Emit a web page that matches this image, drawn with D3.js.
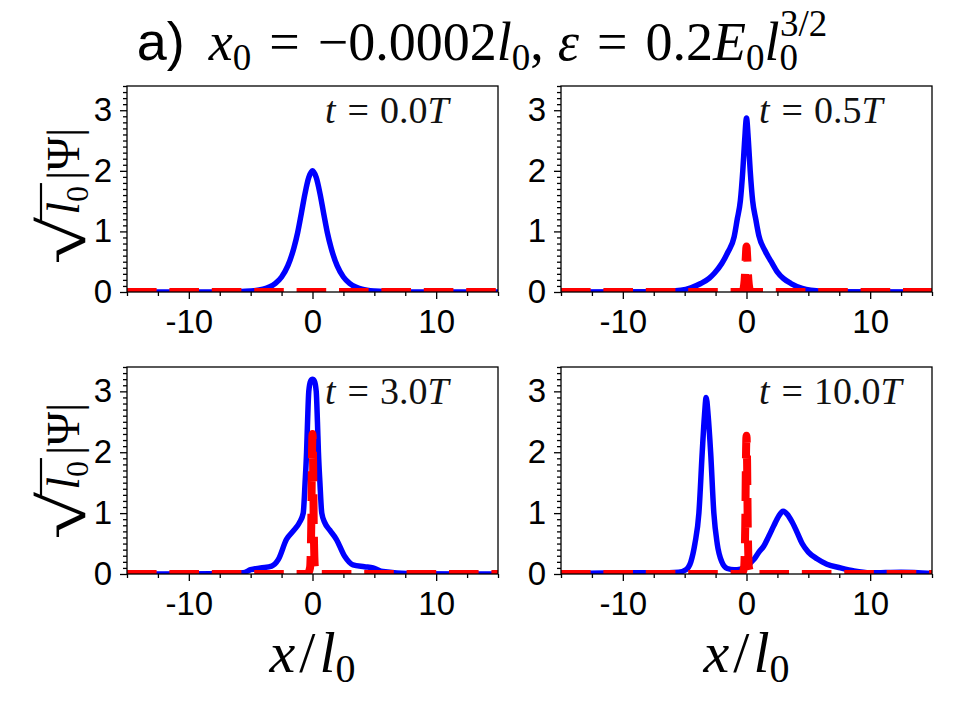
<!DOCTYPE html>
<html>
<head>
<meta charset="utf-8">
<script src="https://cdn.jsdelivr.net/npm/d3@7"></script>
<style>
  body { margin: 0; background: #fff; }
  text { white-space: pre; }
</style>
</head>
<body>
<div id="chart"></div>
<script>
// axis ranges and ticks
var xDomain = [-15, 15];
var yDomain = [0, 3.4];
var xTicks = [-10, 0, 10];
var xMinor = [-15, -12.5, -7.5, -5, -2.5, 2.5, 5, 7.5, 12.5, 15];
var yTicks = [0, 1, 2, 3];
var times = ["0.0", "0.5", "3.0", "10.0"];

// t = 0.0T
var blueX0 = [-15, -8, -6, -5, -4, -3.5, -3, -2.5, -2, -1.5, -1.2, -0.9, -0.6, -0.3, 0, 0.3, 0.6, 0.9, 1.2, 1.5, 2, 2.5, 3, 3.5, 4, 5, 6, 8, 15];
var blueY0 = [0, 0.001, 0.005, 0.015, 0.047, 0.082, 0.143, 0.248, 0.43, 0.73, 0.98, 1.30, 1.63, 1.89, 2.0, 1.89, 1.63, 1.30, 0.98, 0.73, 0.43, 0.248, 0.143, 0.082, 0.047, 0.015, 0.005, 0.001, 0];
var redX0 = [-15, 15];
var redY0 = [0, 0];

// t = 0.5T
var blueX1 = [-15, -7, -5.3, -4.5, -3.7, -3, -2.6, -2, -1.5, -1.0, -0.75, -0.5, -0.3, -0.15, 0, 0.15, 0.3, 0.5, 0.75, 1.0, 1.5, 2, 2.5, 3, 3.6, 4.5, 5.2, 7, 15];
var blueY1 = [0, 0.005, 0.03, 0.07, 0.14, 0.23, 0.31, 0.47, 0.66, 0.91, 1.2, 1.5, 2.0, 2.5, 2.87, 2.5, 2.0, 1.5, 1.2, 0.93, 0.68, 0.5, 0.33, 0.22, 0.14, 0.06, 0.03, 0.005, 0];
var redX1 = [-15, -0.6, -0.3, -0.15, -0.05, 0, 0.05, 0.15, 0.3, 0.6, 15];
var redY1 = [0, 0, 0.02, 0.2, 0.6, 0.75, 0.6, 0.2, 0.02, 0, 0];

// t = 3.0T
var blueX2 = [-15, -8, -5.6, -5, -4.2, -3.3, -2.76, -2.1, -1.5, -1.07, -0.75, -0.6, -0.48, -0.4, -0.3, -0.15, 0, 0.15, 0.3, 0.4, 0.48, 0.6, 0.75, 1.0, 1.4, 1.93, 2.6, 3.27, 4.2, 4.9, 5.7, 8, 15];
var blueY2 = [0, 0.005, 0.02, 0.07, 0.1, 0.13, 0.24, 0.57, 0.72, 0.84, 1.0, 1.5, 2.0, 2.5, 3.0, 3.17, 3.2, 3.17, 3.0, 2.5, 2.0, 1.5, 1.0, 0.84, 0.72, 0.57, 0.29, 0.15, 0.12, 0.1, 0.04, 0.005, 0];
var redX2 = [-15, -0.4, -0.2, -0.1, -0.05, 0, 0.05, 0.1, 0.2, 0.4, 15];
var redY2 = [0, 0, 0.1, 0.8, 1.8, 2.3, 1.8, 0.8, 0.1, 0, 0];

// t = 10.0T
var blueX3 = [-15, -10, -7, -5.5, -4.9, -4.5, -4.17, -3.85, -3.58, -3.4, -3.26, -3.1, -2.9, -2.64, -2.37, -2.0, -1.56, -1.0, -0.5, 0, 0.6, 1.0, 1.4, 1.8, 2.2, 2.6, 2.96, 3.3, 3.7, 4.1, 4.5, 5.0, 5.7, 6.5, 7.6, 8.7, 10, 12.5, 15];
var blueY3 = [0, 0.02, 0.02, 0.03, 0.07, 0.2, 0.5, 1.0, 2.0, 2.6, 2.9, 2.6, 2.0, 1.0, 0.5, 0.2, 0.09, 0.07, 0.08, 0.13, 0.24, 0.36, 0.46, 0.62, 0.79, 0.95, 1.03, 0.98, 0.85, 0.68, 0.5, 0.36, 0.25, 0.16, 0.1, 0.05, 0.02, 0.03, 0.01];
var redX3 = [-15, -0.4, -0.2, -0.1, -0.05, 0, 0.05, 0.1, 0.2, 0.4, 15];
var redY3 = [0, 0, 0.1, 0.8, 1.8, 2.27, 1.8, 0.8, 0.1, 0, 0];

var serif = "'Liberation Serif', 'DejaVu Serif', serif";
var sans = "'Liberation Sans', 'DejaVu Sans', sans-serif";

var svg = d3.select("#chart").append("svg")
    .attr("width", 960)
    .attr("height", 720);

var zip = (xs, ys) => xs.map((x, i) => [x, ys[i]]);

var panels = [
    {l: 127, r: 498, t: 86, b: 292, time: times[0], blue: zip(blueX0, blueY0), red: zip(redX0, redY0)},
    {l: 561, r: 932, t: 86, b: 292, time: times[1], blue: zip(blueX1, blueY1), red: zip(redX1, redY1)},
    {l: 127, r: 498, t: 367, b: 574, time: times[2], blue: zip(blueX2, blueY2), red: zip(redX2, redY2)},
    {l: 561, r: 932, t: 367, b: 574, time: times[3], blue: zip(blueX3, blueY3), red: zip(redX3, redY3)}
];

panels.forEach((p, k) => {
    var x = d3.scaleLinear().domain(xDomain).range([p.l, p.r]);
    var y = d3.scaleLinear().domain(yDomain).range([p.b, p.t]);
    var line = d3.line().x(d => x(d[0])).y(d => y(d[1])).curve(d3.curveMonotoneX);

    svg.append("clipPath").attr("id", "clip" + k)
        .append("rect")
        .attr("x", p.l).attr("y", p.t)
        .attr("width", p.r - p.l).attr("height", p.b - p.t);

    var g = svg.append("g").attr("clip-path", `url(#clip${k})`);
    g.append("path")
        .attr("d", line(p.blue))
        .attr("fill", "none")
        .attr("stroke", "#0000ff")
        .attr("stroke-width", 5.5)
        .attr("stroke-linejoin", "round");
    g.append("path")
        .attr("d", line(p.red))
        .attr("fill", "none")
        .attr("stroke", "#ff0000")
        .attr("stroke-width", 8)
        .attr("stroke-dasharray", "29.6,12.8");

    // minor ticks
    svg.append("g")
        .attr("transform", `translate(0,${p.b})`)
        .call(d3.axisBottom(x).tickValues(xMinor).tickSize(4).tickFormat(""))
        .call(a => a.select(".domain").remove());
    svg.append("g")
        .attr("transform", `translate(${p.l},0)`)
        .call(d3.axisLeft(y).tickValues(d3.range(0.1, 3.41, 0.1).filter(v => Math.abs(v - Math.round(v)) > 0.01)).tickSize(4).tickFormat(""))
        .call(a => a.select(".domain").remove());

    // major ticks
    svg.append("g")
        .attr("transform", `translate(0,${p.b})`)
        .call(d3.axisBottom(x).tickValues(xTicks).tickSize(7).tickPadding(11).tickFormat(d => String(d)))
        .call(a => a.select(".domain").remove())
        .selectAll("text")
        .attr("font-family", sans).attr("font-size", 33).attr("fill", "#000");
    svg.append("g")
        .attr("transform", `translate(${p.l},0)`)
        .call(d3.axisLeft(y).tickValues(yTicks).tickSize(7).tickPadding(8).tickFormat(d => String(d)))
        .call(a => a.select(".domain").remove())
        .selectAll("text")
        .attr("font-family", sans).attr("font-size", 33).attr("fill", "#000");

    svg.selectAll(".tick line").attr("stroke", "#000").attr("stroke-width", 1.3);

    svg.append("rect")
        .attr("x", p.l).attr("y", p.t)
        .attr("width", p.r - p.l).attr("height", p.b - p.t)
        .attr("fill", "none")
        .attr("stroke", "#000")
        .attr("stroke-width", 1.3);

    // time label
    var tl = svg.append("text")
        .attr("x", p.l + 198).attr("y", p.t + 37)
        .attr("font-family", serif).attr("font-size", 38).attr("fill", "#111");
    tl.append("tspan").attr("font-style", "italic").text("t");
    tl.append("tspan").attr("dx", 12).text("=");
    tl.append("tspan").attr("dx", 11).text(p.time);
    tl.append("tspan").attr("font-style", "italic").text("T");
});

// y labels: radical, l0 under the bar, then |Ψ|
[197, 472].forEach(cy => {
    var g = svg.append("g").attr("transform", `translate(79,${cy}) rotate(-90)`);
    var rad = g.append("text")
        .attr("font-family", serif).attr("font-size", 54).attr("fill", "#000")
        .text("√");
    var rw = rad.node().getComputedTextLength() * 1.6;
    var body = g.append("text")
        .attr("font-family", serif).attr("font-size", 46).attr("fill", "#000");
    body.append("tspan").attr("font-style", "italic").text("l");
    body.append("tspan").attr("font-size", 32).attr("dy", 9).text("0");
    body.append("tspan").attr("dy", -9).attr("dx", 6).text("|Ψ|");
    var bw = body.node().getComputedTextLength() + 6;
    var x0 = -(rw + bw) / 2;
    rad.attr("transform", `translate(${x0},6) scale(1.6,1.2)`);
    body.attr("x", x0 + rw + 2);
    var e = body.node().getExtentOfChar(1);
    g.append("line")
        .attr("x1", x0 + rw - 4).attr("x2", e.x + e.width + 3)
        .attr("y1", -38).attr("y2", -38)
        .attr("stroke", "#000").attr("stroke-width", 2.2);
});

// x labels
[312.5, 746.5].forEach(cx => {
    var t = svg.append("text")
        .attr("x", cx).attr("y", 672)
        .attr("text-anchor", "middle")
        .attr("font-family", serif).attr("font-size", 58).attr("fill", "#000");
    t.append("tspan").attr("font-style", "italic").text("x");
    t.append("tspan").attr("dx", 4).text("/");
    t.append("tspan").attr("font-style", "italic").attr("dx", 4).text("l");
    t.append("tspan").attr("font-size", 40).attr("dy", 10).text("0");
});

// title
var title = svg.append("text")
    .attr("x", 482).attr("y", 60)
    .attr("text-anchor", "middle")
    .attr("font-family", serif).attr("font-size", 54).attr("fill", "#000");
var parts = [
    {s: "a)", f: sans},
    {s: "x", i: 1, dx: 24}, {s: "0", sub: 1},
    {s: "=", dx: 18},
    {s: "−0.0002", dx: 18},
    {s: "l", i: 1}, {s: "0", sub: 1},
    {s: ","},
    {s: "ε", i: 1, dx: 14},
    {s: "=", dx: 18},
    {s: "0.2", dx: 18},
    {s: "E", i: 1}, {s: "0", sub: 1},
    {s: "l", i: 1}, {s: "0", sub: 1},
    {s: "3/2", sup: 1}
];
var cur = 0;
parts.forEach(q => {
    var ts = title.append("tspan").text(q.s);
    var target = q.sub ? 10 : q.sup ? -24 : 0;
    ts.attr("dy", target - cur);
    cur = target;
    if (q.dx) ts.attr("dx", q.dx);
    if (q.f) ts.attr("font-family", q.f);
    if (q.i) ts.attr("font-style", "italic");
    if (q.sub) ts.attr("font-size", 37);
    if (q.sup) ts.attr("font-size", 37).attr("dx", -18);
});
</script>
</body>
</html>
